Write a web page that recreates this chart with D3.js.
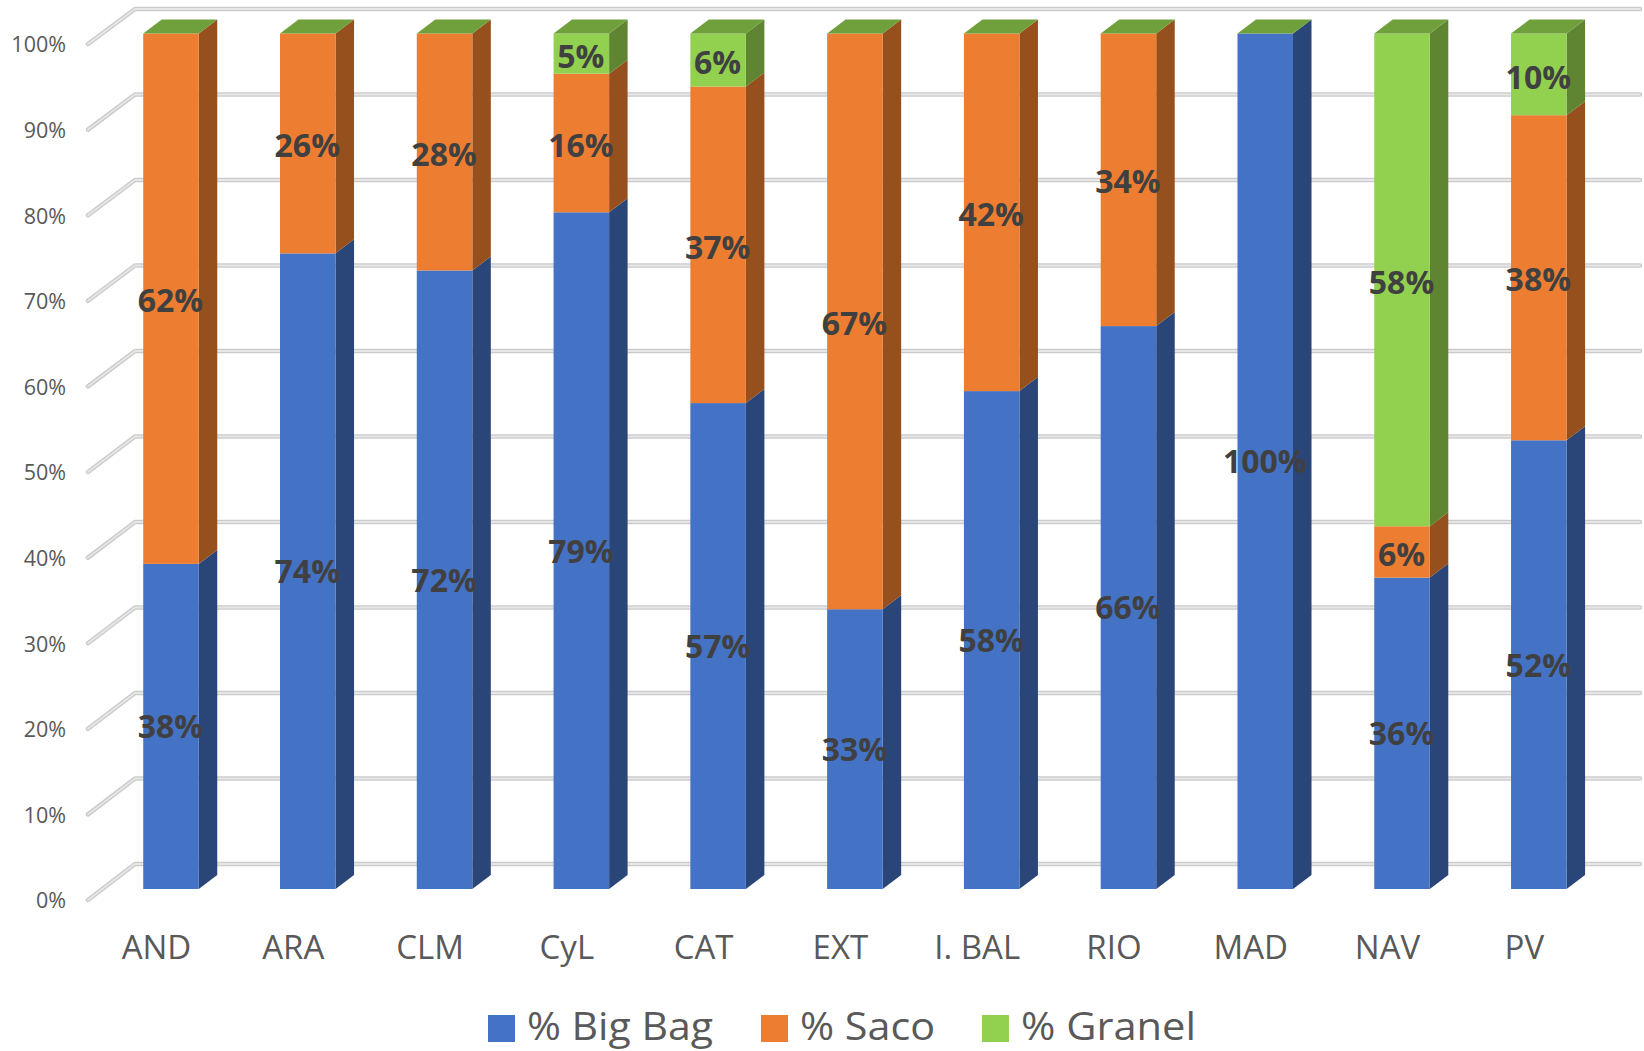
<!DOCTYPE html>
<html>
<head>
<meta charset="utf-8">
<script src="https://cdn.jsdelivr.net/npm/d3@7"></script>
<style>
  body { margin: 0; background: #fff; }
  text { font-family: "Open Sans", sans-serif; fill: #595959; }
</style>
</head>
<body>
<svg id="chart" width="1644" height="1051"></svg>
<script>
var categories = ['AND', 'ARA', 'CLM', 'CyL', 'CAT', 'EXT', 'I. BAL', 'RIO', 'MAD', 'NAV', 'PV'];
var bigBag = [38, 74.3, 72.3, 79.1, 56.8, 32.7, 58.2, 65.8, 100, 36.4, 52.45];
var saco = [62, 25.7, 27.7, 16.2, 37, 67.3, 41.8, 34.2, 0, 6, 38];
var granel = [0, 0, 0, 4.7, 6.2, 0, 0, 0, 0, 57.6, 9.55];
var seriesNames = ['% Big Bag', '% Saco', '% Granel'];
var ticks = [0, 10, 20, 30, 40, 50, 60, 70, 80, 90, 100];

var front = ['#4472c4', '#ed7d31', '#92d050'];
var side = ['#2a4678', '#96501e', '#5f8532'];
var topColor = '#70a03c';
var depthX = 18.5, depthY = 14; // 3d offset of the bars
var labelShift = [0.7, 2.5, 3]; // data labels sit a little lower in the upper series

var svg = d3.select('#chart');

var rows = categories.map(function (c, i) {
  return { cat: c, s0: bigBag[i], s1: saco[i], s2: granel[i] };
});
var stacked = d3.stack().keys(['s0', 's1', 's2'])(rows);

var x = d3.scaleBand()
  .domain(categories)
  .range([102.6, 1607.2])
  .paddingInner(0.594)
  .paddingOuter(0.297);

var y = d3.scaleLinear().domain([0, 100]).range([889, 33.5]);   // bars
var yAxis = d3.scaleLinear().domain([0, 100]).range([900, 44]); // wall front edge
var yBack = d3.scaleLinear().domain([0, 100]).range([864, 9]);  // back wall

// Gridlines: floor edge + back wall
var grid = svg.append('g');
[['#cbcbcb', 4.5], ['#e6e6e6', 1.8]].forEach(function (s) {
  grid.selectAll(null)
    .data(ticks)
    .enter().append('path')
    .attr('fill', 'none')
    .attr('stroke', s[0])
    .attr('stroke-width', s[1])
    .attr('stroke-linecap', 'round')
    .attr('stroke-linejoin', 'round')
    .attr('d', function (d) {
      return 'M88,' + yAxis(d) + 'L135,' + yBack(d) + 'L1640,' + yBack(d);
    });
});

// y axis labels
var axisG = svg.append('g')
  .attr('transform', 'translate(66,1)')
  .call(d3.axisLeft(yAxis).tickValues(ticks).tickSize(0).tickPadding(0)
    .tickFormat(function (d) { return d + '%'; }));
axisG.select('.domain').remove();
axisG.selectAll('text')
  .style('font-family', '"Open Sans", sans-serif')
  .style('font-size', '21.5px')
  .style('fill', '#595959');

// Bars
var bars = svg.append('g');
stacked.forEach(function (layer, k) {
  layer.forEach(function (d) {
    if (d[1] - d[0] <= 0) return;
    var x0 = x(d.data.cat), x1 = x0 + x.bandwidth();
    bars.append('path')
      .attr('fill', side[k])
      .attr('d', 'M' + x1 + ',' + y(d[0]) + 'L' + (x1 + depthX) + ',' + (y(d[0]) - depthY) +
        'L' + (x1 + depthX) + ',' + (y(d[1]) - depthY) + 'L' + x1 + ',' + y(d[1]) + 'Z');
    bars.append('rect')
      .attr('x', x0)
      .attr('y', y(d[1]))
      .attr('width', x.bandwidth())
      .attr('height', y(d[0]) - y(d[1]))
      .attr('fill', front[k]);
  });
});

// Top faces are green on every bar
bars.selectAll('.top')
  .data(categories)
  .enter().append('path')
  .attr('class', 'top')
  .attr('fill', topColor)
  .attr('d', function (c) {
    var x0 = x(c), x1 = x0 + x.bandwidth();
    return 'M' + x0 + ',' + y(100) + 'L' + (x0 + depthX) + ',' + (y(100) - depthY) +
      'L' + (x1 + depthX) + ',' + (y(100) - depthY) + 'L' + x1 + ',' + y(100) + 'Z';
  });

// Data labels
var labels = svg.append('g');
stacked.forEach(function (layer, k) {
  layer.forEach(function (d) {
    if (d[1] - d[0] <= 0) return;
    labels.append('text')
      .attr('x', x(d.data.cat) + x.bandwidth() / 2 - 0.5)
      .attr('y', y((d[0] + d[1]) / 2) + labelShift[k])
      .attr('dy', '0.35em')
      .attr('text-anchor', 'middle')
      .style('font-size', '32px')
      .style('font-weight', 700)
      .style('fill', '#404040')
      .text(Math.round(d[1] - d[0]) + '%');
  });
});

// Category labels sit a bit left of the bars
svg.append('g').selectAll('text')
  .data(categories)
  .enter().append('text')
  .attr('x', function (c) { return x(c) + x.bandwidth() / 2 - 14.5; })
  .attr('y', 958.5)
  .attr('text-anchor', 'middle')
  .style('font-size', '33px')
  .text(function (c) { return c; });

// Legend
var legendX = [488, 761, 982];
var legendW = [186, 135, 175]; // text is stretched wider than the font
var legend = svg.append('g');
seriesNames.forEach(function (name, i) {
  legend.append('rect')
    .attr('x', legendX[i])
    .attr('y', 1015)
    .attr('width', 27)
    .attr('height', 27)
    .attr('fill', front[i]);
  legend.append('text')
    .attr('x', legendX[i] + 39)
    .attr('y', 1039.5)
    .attr('textLength', legendW[i])
    .attr('lengthAdjust', 'spacingAndGlyphs')
    .style('font-size', '38.5px')
    .text(name);
});
</script>
</body>
</html>
